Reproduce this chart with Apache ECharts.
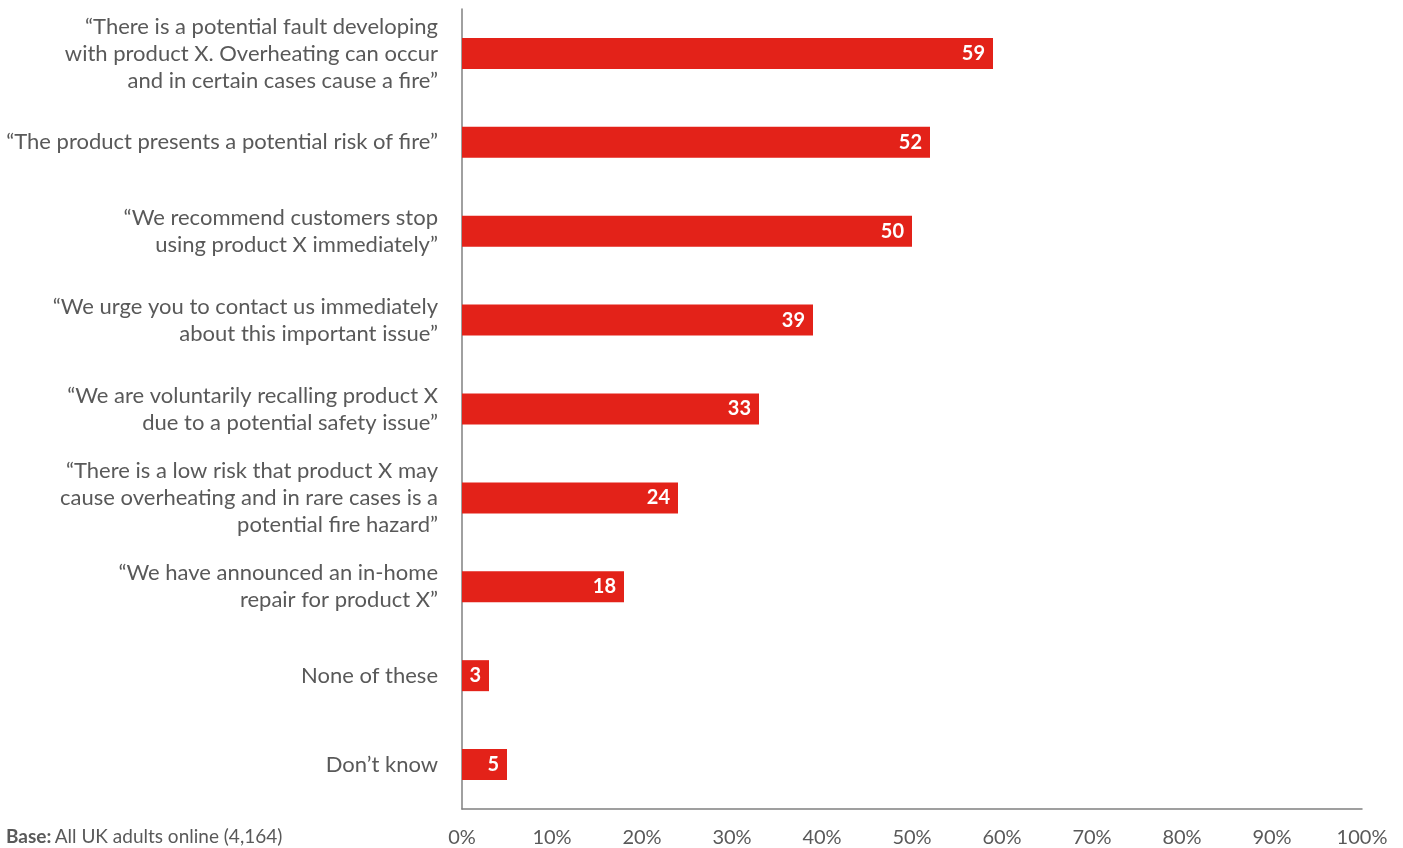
<!DOCTYPE html>
<html>
<head>
<meta charset="utf-8">
<script src="https://cdn.jsdelivr.net/npm/echarts@6/dist/echarts.min.js"></script>
<style>
html,body{margin:0;padding:0;background:#fff;}
#chart{width:1403px;height:848px;}
</style>
</head>
<body>
<div id="chart"></div>
<script>
var categories = [
  "\u201cThere is a potential fault developing\nwith product X. Overheating can occur\nand in certain cases cause a fire\u201d",
  "\u201cThe product presents a potential risk of fire\u201d",
  "\u201cWe recommend customers stop\nusing product X immediately\u201d",
  "\u201cWe urge you to contact us immediately\nabout this important issue\u201d",
  "\u201cWe are voluntarily recalling product X\ndue to a potential safety issue\u201d",
  "\u201cThere is a low risk that product X may\ncause overheating and in rare cases is a\npotential fire hazard\u201d",
  "\u201cWe have announced an in-home\nrepair for product X\u201d",
  "None of these",
  "Don\u2019t know"
];
var values = [59, 52, 50, 39, 33, 24, 18, 3, 5];
var baseNote = "All UK adults online (4,164)";

var font = "Lato, 'Open Sans', sans-serif";
var chart = echarts.init(document.getElementById('chart'));
chart.setOption({
  animation: false,
  textStyle: {fontFamily: font},
  grid: {left: 462, right: 41, top: 9, bottom: 39, containLabel: false},
  xAxis: {
    type: 'value', min: 0, max: 100, interval: 10,
    axisLine: {show: true, lineStyle: {color: '#808080', width: 1.5}},
    axisTick: {show: false},
    splitLine: {show: false},
    axisLabel: {formatter: '{value}%', color: '#595959', fontSize: 20, margin: 19, fontFamily: font}
  },
  yAxis: {
    type: 'category', data: categories, inverse: true,
    axisLine: {show: true, lineStyle: {color: '#808080', width: 1.5}},
    axisTick: {show: false},
    axisLabel: {color: '#595959', fontSize: 22, lineHeight: 27, margin: 24, align: 'right', fontFamily: font}
  },
  graphic: [{
    type: 'text', left: 6, top: 827,
    style: {
      rich: {b: {fontWeight: 'bold', fontSize: 19, fill: '#595959', fontFamily: font},
             n: {fontSize: 19, fill: '#595959', fontFamily: font}},
      text: '{b|Base:} {n|' + baseNote + '}'
    }
  }],
  series: [{
    type: 'bar', data: values, barWidth: 31,
    itemStyle: {color: '#e32219'},
    label: {show: true, position: 'insideRight', color: '#fff', fontWeight: 'bold', fontSize: 20, distance: 8, fontFamily: font}
  }]
});
</script>
</body>
</html>
